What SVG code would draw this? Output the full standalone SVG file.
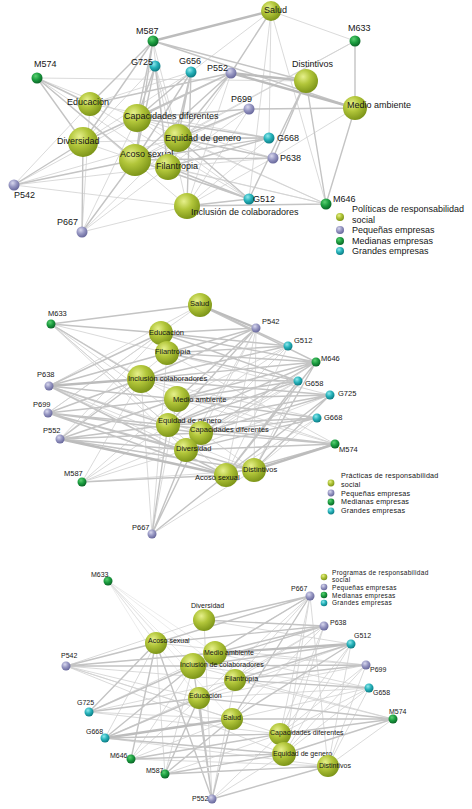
<svg xmlns="http://www.w3.org/2000/svg" width="472" height="809" viewBox="0 0 472 809">
<defs>
<radialGradient id="gO" cx="0.38" cy="0.32" r="0.7"><stop offset="0" stop-color="#e6f08c"/><stop offset="0.45" stop-color="#b2c63a"/><stop offset="1" stop-color="#7c9418"/></radialGradient>
<radialGradient id="gP" cx="0.38" cy="0.32" r="0.7"><stop offset="0" stop-color="#d8d8ee"/><stop offset="0.5" stop-color="#9696c2"/><stop offset="1" stop-color="#66669a"/></radialGradient>
<radialGradient id="gG" cx="0.38" cy="0.32" r="0.7"><stop offset="0" stop-color="#5ccf72"/><stop offset="0.5" stop-color="#1c9e40"/><stop offset="1" stop-color="#0a6426"/></radialGradient>
<radialGradient id="gT" cx="0.38" cy="0.32" r="0.7"><stop offset="0" stop-color="#90e8ec"/><stop offset="0.5" stop-color="#26b2ba"/><stop offset="1" stop-color="#0c7a82"/></radialGradient>
<style>
.e0{stroke:#d8d8d8;stroke-width:0.5;fill:none}
.e1{stroke:#d0d0d0;stroke-width:0.8;fill:none}
.e2{stroke:#c4c4c4;stroke-width:1.4;fill:none}
.e3{stroke:#bcbcbc;stroke-width:2.4;fill:none}
.o{fill:url(#gO)}.p{fill:url(#gP)}.g{fill:url(#gG)}.c{fill:url(#gT)}
text{font-family:"Liberation Sans",Arial,sans-serif;fill:#161616}
.t1{font-size:9px}.t2{font-size:7.5px}.t3{font-size:7px}
.l1{font-size:9px}.l2{font-size:7.2px;letter-spacing:0.2px}.l3{font-size:6.5px;letter-spacing:0.3px}
</style>
</defs>
<rect width="472" height="809" fill="#ffffff"/>

<g id="connectors">
<g id="connectors-1">
<path class="e1" d="M355 41L271 11M355 41L178 138M355 41L135 160M153 41L178 138M153 41L168 167M155 66L83 142M155 66L178 138M155 66L187 206M191 72L83 142M191 72L90 104M191 72L271 11M231 73L187 206M231 73L168 167M37 78L137 118M37 78L168 167M37 78L306 81M37 78L187 206M249 109L135 160M249 109L187 206M249 109L168 167M269 138L83 142M269 138L187 206M269 138L271 11M269 138L90 104M273 158L168 167M273 158L137 118M273 158L187 206M273 158L355 108M14 185L90 104M14 185L168 167M14 185L187 206M14 185L178 138M14 185L137 118M82 232L168 167M82 232L187 206M82 232L137 118M82 232L178 138M82 232L90 104M249 199L137 118M249 199L271 11M249 199L83 142M249 199L90 104M326 204L271 11M326 204L168 167M326 204L178 138M326 204L135 160M326 204L137 118"/>
<path class="e2" d="M355 41L355 108M153 41L90 104M153 41L137 118M153 41L83 142M153 41L135 160M153 41L306 81M153 41L355 108M155 66L137 118M155 66L135 160M155 66L168 167M191 72L178 138M191 72L135 160M191 72L168 167M191 72L137 118M191 72L187 206M231 73L137 118M231 73L178 138M231 73L135 160M231 73L90 104M231 73L83 142M231 73L271 11M37 78L90 104M37 78L83 142M37 78L135 160M249 109L355 108M249 109L137 118M249 109L178 138M269 138L178 138M269 138L137 118M269 138L135 160M269 138L168 167M273 158L306 81M273 158L178 138M273 158L135 160M14 185L83 142M14 185L135 160M82 232L83 142M82 232L135 160M249 199L187 206M249 199L178 138M249 199L135 160M249 199L168 167M249 199L306 81M326 204L355 108M326 204L306 81M326 204L187 206"/>
<path class="e3" d="M153 41L271 11M231 73L306 81M231 73L355 108"/>
</g>
<g id="connectors-2">
<path class="e1" d="M51 324L167 353M51 324L177 399M51 324L168 425M51 324L186 450M51 324L226 475M51 324L254 470M49 386L201 433M49 386L186 450M49 386L254 470M49 386L200 305M48 413L161 333M48 413L200 305M60 439L167 353M60 439L161 333M82 482L186 450M82 482L168 425M82 482L201 433M82 482L141 379M82 482L254 470M82 482L177 399M152 534L177 399M152 534L141 379M152 534L167 353M152 534L254 470M256 328L201 433M256 328L186 450M256 328L226 475M256 328L254 470M288 346L177 399M288 346L168 425M288 346L201 433M288 346L226 475M316 362L186 450M298 381L201 433M298 381L186 450M298 381L254 470M330 395L186 450M330 395L167 353M317 418L226 475M317 418L254 470M317 418L141 379M335 444L177 399M335 444L141 379M335 444L167 353"/>
<path class="e2" d="M51 324L200 305M51 324L161 333M51 324L141 379M49 386L161 333M49 386L167 353M49 386L177 399M49 386L168 425M49 386L226 475M48 413L141 379M48 413L177 399M48 413L168 425M48 413L201 433M48 413L186 450M48 413L226 475M48 413L254 470M60 439L141 379M60 439L177 399M60 439L168 425M60 439L201 433M60 439L186 450M60 439L254 470M82 482L226 475M152 534L226 475M152 534L186 450M152 534L201 433M152 534L168 425M256 328L161 333M256 328L167 353M256 328L141 379M256 328L177 399M256 328L168 425M288 346L200 305M288 346L161 333M288 346L167 353M288 346L141 379M316 362L200 305M316 362L161 333M316 362L167 353M316 362L141 379M316 362L177 399M316 362L168 425M316 362L201 433M316 362L226 475M316 362L254 470M298 381L161 333M298 381L167 353M298 381L141 379M298 381L177 399M298 381L168 425M298 381L226 475M330 395L141 379M330 395L177 399M330 395L168 425M330 395L201 433M330 395L226 475M330 395L254 470M317 418L177 399M317 418L168 425M317 418L201 433M317 418L186 450M335 444L201 433M335 444L186 450M335 444L168 425M335 444L226 475"/>
<path class="e3" d="M49 386L141 379M60 439L226 475M256 328L200 305M335 444L254 470"/>
</g>
<g id="connectors-3">
<path class="e0" d="M108 581L156 643M108 581L148 645M108 581L162 640M108 581L193 666M108 581L235 680M108 581L199 698M108 581L215 653M108 581L232 719"/>
<path class="e1" d="M66 666L204 620M66 666L235 680M66 666L199 698M66 666L232 719M66 666L280 734M66 666L284 754M310 596L193 666M310 596L199 698M310 596L280 734M310 596L284 754M310 596L328 766M310 596L235 680M324 626L235 680M324 626L199 698M324 626L284 754M324 626L280 734M324 626L232 719M351 644L199 698M351 644L280 734M351 644L284 754M351 644L328 766M351 644L204 620M366 665L199 698M366 665L156 643M366 665L215 653M366 665L280 734M366 665L284 754M366 665L328 766M369 688L215 653M369 688L193 666M369 688L199 698M369 688L280 734M369 688L284 754M369 688L328 766M369 688L232 719M393 719L193 666M393 719L328 766M393 719L235 680M89 712L232 719M89 712L235 680M89 712L215 653M89 712L280 734M105 738L235 680M105 738L156 643M105 738L328 766M131 759L193 666M131 759L199 698M131 759L232 719M131 759L328 766M165 774L280 734M165 774L193 666M165 774L156 643M212 799L280 734M212 799L284 754M212 799L204 620M212 799L235 680"/>
<path class="e2" d="M66 666L156 643M66 666L215 653M66 666L193 666M310 596L204 620M310 596L156 643M310 596L215 653M310 596L232 719M324 626L204 620M324 626L156 643M324 626L215 653M324 626L193 666M351 644L193 666M351 644L235 680M351 644L232 719M366 665L193 666M366 665L235 680M369 688L235 680M393 719L232 719M393 719L199 698M393 719L280 734M393 719L284 754M89 712L156 643M89 712L193 666M89 712L199 698M105 738L199 698M105 738L193 666M105 738L280 734M105 738L284 754M131 759L156 643M131 759L280 734M131 759L284 754M165 774L199 698M165 774L232 719M165 774L284 754M165 774L328 766M212 799L199 698M212 799L232 719M212 799L193 666M212 799L156 643M212 799L328 766"/>
<path class="e3" d="M351 644L215 653M105 738L232 719"/>
</g>
</g>

<!-- Panel 1 -->
<g id="p1-salud"><circle class="o" cx="271" cy="11" r="10"/><text class="t1" x="264" y="13">Salud</text></g>
<g id="p1-distintivos"><circle class="o" cx="306" cy="81" r="12"/><text class="t1" x="292" y="67">Distintivos</text></g>
<g id="p1-educacion"><circle class="o" cx="90" cy="104" r="12"/><text class="t1" x="67" y="105">Educación</text></g>
<g id="p1-capacidades"><circle class="o" cx="137" cy="118" r="14"/><text class="t1" x="124" y="119">Capacidades diferentes</text></g>
<g id="p1-medio"><circle class="o" cx="355" cy="108" r="12"/><text class="t1" x="347" y="108">Medio ambiente</text></g>
<g id="p1-equidad"><circle class="o" cx="178" cy="138" r="14"/><text class="t1" x="165" y="141">Equidad de genero</text></g>
<g id="p1-diversidad"><circle class="o" cx="83" cy="142" r="15"/><text class="t1" x="57" y="144">Diversidad</text></g>
<g id="p1-acoso"><circle class="o" cx="135" cy="160" r="16"/><text class="t1" x="120" y="157">Acoso sexual</text></g>
<g id="p1-filantropia"><circle class="o" cx="168" cy="167" r="13"/><text class="t1" x="156" y="169">Filantropia</text></g>
<g id="p1-inclusion"><circle class="o" cx="187" cy="206" r="13"/><text class="t1" x="191" y="215">Inclusión de colaboradores</text></g>
<g id="p1-M587"><circle class="g" cx="153" cy="41" r="5.5"/><text class="t1" x="136" y="34">M587</text></g>
<g id="p1-G725"><circle class="c" cx="155" cy="66" r="5.5"/><text class="t1" x="131" y="65">G725</text></g>
<g id="p1-G656"><circle class="c" cx="191" cy="72" r="5.5"/><text class="t1" x="179" y="64">G656</text></g>
<g id="p1-P552"><circle class="p" cx="231" cy="73" r="5.5"/><text class="t1" x="207" y="71">P552</text></g>
<g id="p1-M574"><circle class="g" cx="37" cy="78" r="5.5"/><text class="t1" x="34" y="67">M574</text></g>
<g id="p1-M633"><circle class="g" cx="355" cy="41" r="5.5"/><text class="t1" x="348" y="31">M633</text></g>
<g id="p1-P699"><circle class="p" cx="249" cy="109" r="5.5"/><text class="t1" x="231" y="102">P699</text></g>
<g id="p1-G668"><circle class="c" cx="269" cy="138" r="5.5"/><text class="t1" x="277" y="141">G668</text></g>
<g id="p1-P638"><circle class="p" cx="273" cy="158" r="5.5"/><text class="t1" x="280" y="161">P638</text></g>
<g id="p1-P542"><circle class="p" cx="14" cy="185" r="5.5"/><text class="t1" x="14" y="198">P542</text></g>
<g id="p1-P667"><circle class="p" cx="82" cy="232" r="5.5"/><text class="t1" x="57" y="225">P667</text></g>
<g id="p1-G512"><circle class="c" cx="249" cy="199" r="5.5"/><text class="t1" x="253" y="202">G512</text></g>
<g id="p1-M646"><circle class="g" cx="326" cy="204" r="5.5"/><text class="t1" x="333" y="202">M646</text></g>
<g id="p1-legend">
<circle class="o" cx="340" cy="217" r="4"/><circle class="p" cx="340" cy="230" r="4"/><circle class="g" cx="340" cy="241" r="4"/><circle class="c" cx="340" cy="251" r="4"/>
<text class="l1" x="352" y="212">Políticas de responsabilidad</text><text class="l1" x="352" y="223">social</text><text class="l1" x="352" y="233">Pequeñas empresas</text><text class="l1" x="352" y="244">Medianas empresas</text><text class="l1" x="352" y="254">Grandes empresas</text>
</g>

<!-- Panel 2 -->
<g id="p2-salud"><circle class="o" cx="200" cy="305" r="12"/><text class="t2" x="190" y="306">Salud</text></g>
<g id="p2-educacion"><circle class="o" cx="161" cy="333" r="12"/><text class="t2" x="149" y="335">Educación</text></g>
<g id="p2-filantropia"><circle class="o" cx="167" cy="353" r="12"/><text class="t2" x="155" y="354">Filantropía</text></g>
<g id="p2-inclusion"><circle class="o" cx="141" cy="379" r="14"/><text class="t2" x="128" y="381">Inclusión colaboradores</text></g>
<g id="p2-medio"><circle class="o" cx="177" cy="399" r="13"/><text class="t2" x="173" y="402">Medio ambiente</text></g>
<g id="p2-equidad"><circle class="o" cx="168" cy="425" r="12"/><text class="t2" x="158" y="423">Equidad de género</text></g>
<g id="p2-capacidades"><circle class="o" cx="201" cy="433" r="12"/><text class="t2" x="190" y="432">Capacidades diferentes</text></g>
<g id="p2-diversidad"><circle class="o" cx="186" cy="450" r="12"/><text class="t2" x="176" y="451">Diversidad</text></g>
<g id="p2-acoso"><circle class="o" cx="226" cy="475" r="12"/><text class="t2" x="195" y="480">Acoso sexual</text></g>
<g id="p2-distintivos"><circle class="o" cx="254" cy="470" r="12"/><text class="t2" x="243" y="472">Distintivos</text></g>
<g id="p2-M633"><circle class="g" cx="51" cy="324" r="4.5"/><text class="t2" x="48" y="316">M633</text></g>
<g id="p2-P638"><circle class="p" cx="49" cy="386" r="4.5"/><text class="t2" x="37" y="377">P638</text></g>
<g id="p2-P699"><circle class="p" cx="48" cy="413" r="4.5"/><text class="t2" x="33" y="407">P699</text></g>
<g id="p2-P552"><circle class="p" cx="60" cy="439" r="4.5"/><text class="t2" x="43" y="433">P552</text></g>
<g id="p2-M587"><circle class="g" cx="82" cy="482" r="4.5"/><text class="t2" x="64" y="476">M587</text></g>
<g id="p2-P667"><circle class="p" cx="152" cy="534" r="4.5"/><text class="t2" x="132" y="530">P667</text></g>
<g id="p2-P542"><circle class="p" cx="256" cy="328" r="4.5"/><text class="t2" x="262" y="324">P542</text></g>
<g id="p2-G512"><circle class="c" cx="288" cy="346" r="4.5"/><text class="t2" x="294" y="343">G512</text></g>
<g id="p2-M646"><circle class="g" cx="316" cy="362" r="4.5"/><text class="t2" x="321" y="361">M646</text></g>
<g id="p2-G658"><circle class="c" cx="298" cy="381" r="4.5"/><text class="t2" x="305" y="386">G658</text></g>
<g id="p2-G725"><circle class="c" cx="330" cy="395" r="4.5"/><text class="t2" x="338" y="396">G725</text></g>
<g id="p2-G668"><circle class="c" cx="317" cy="418" r="4.5"/><text class="t2" x="324" y="420">G668</text></g>
<g id="p2-M574"><circle class="g" cx="335" cy="444" r="4.5"/><text class="t2" x="339" y="452">M574</text></g>
<g id="p2-legend">
<circle class="o" cx="331" cy="483" r="3.4"/><circle class="p" cx="331" cy="493" r="3.4"/><circle class="g" cx="331" cy="502" r="3.4"/><circle class="c" cx="331" cy="511" r="3.4"/>
<text class="l2" x="341" y="478">Prácticas de responsabilidad</text><text class="l2" x="341" y="487">social</text><text class="l2" x="341" y="495.5">Pequeñas empresas</text><text class="l2" x="341" y="504">Medianas empresas</text><text class="l2" x="341" y="513">Grandes empresas</text>
</g>

<!-- Panel 3 -->
<g id="p3-diversidad"><circle class="o" cx="204" cy="620" r="11"/><text class="t3" x="191" y="608">Diversidad</text></g>
<g id="p3-acoso"><circle class="o" cx="156" cy="643" r="11"/><text class="t3" x="148" y="643">Acoso sexual</text></g>
<g id="p3-medio"><circle class="o" cx="215" cy="653" r="12"/><text class="t3" x="204" y="655">Medio ambiente</text></g>
<g id="p3-inclusion"><circle class="o" cx="193" cy="666" r="13"/><text class="t3" x="180" y="667">Inclusión de colaboradores</text></g>
<g id="p3-filantropia"><circle class="o" cx="235" cy="680" r="11"/><text class="t3" x="225" y="681">Filantropía</text></g>
<g id="p3-educacion"><circle class="o" cx="199" cy="698" r="11"/><text class="t3" x="189" y="698">Educación</text></g>
<g id="p3-salud"><circle class="o" cx="232" cy="719" r="11"/><text class="t3" x="223" y="720">Salud</text></g>
<g id="p3-capacidades"><circle class="o" cx="280" cy="734" r="11"/><text class="t3" x="270" y="735">Capacidades diferentes</text></g>
<g id="p3-equidad"><circle class="o" cx="284" cy="754" r="12"/><text class="t3" x="273" y="756">Equidad de genero</text></g>
<g id="p3-distintivos"><circle class="o" cx="328" cy="766" r="11"/><text class="t3" x="319" y="768">Distintivos</text></g>
<g id="p3-M633"><circle class="g" cx="108" cy="581" r="4.5"/><text class="t3" x="91" y="577">M633</text></g>
<g id="p3-P542"><circle class="p" cx="66" cy="666" r="4.5"/><text class="t3" x="61" y="658">P542</text></g>
<g id="p3-P667"><circle class="p" cx="310" cy="596" r="4.5"/><text class="t3" x="291" y="591">P667</text></g>
<g id="p3-P638"><circle class="p" cx="324" cy="626" r="4.5"/><text class="t3" x="330" y="625">P638</text></g>
<g id="p3-G512"><circle class="c" cx="351" cy="644" r="4.5"/><text class="t3" x="354" y="638">G512</text></g>
<g id="p3-P699"><circle class="p" cx="366" cy="665" r="4.5"/><text class="t3" x="370" y="672">P699</text></g>
<g id="p3-G658"><circle class="c" cx="369" cy="688" r="4.5"/><text class="t3" x="373" y="695">G658</text></g>
<g id="p3-M574"><circle class="g" cx="393" cy="719" r="4.5"/><text class="t3" x="389" y="714">M574</text></g>
<g id="p3-G725"><circle class="c" cx="89" cy="712" r="4.5"/><text class="t3" x="77" y="705">G725</text></g>
<g id="p3-G668"><circle class="c" cx="105" cy="738" r="4.5"/><text class="t3" x="86" y="734">G668</text></g>
<g id="p3-M646"><circle class="g" cx="131" cy="759" r="4.5"/><text class="t3" x="110" y="758">M646</text></g>
<g id="p3-M587"><circle class="g" cx="165" cy="774" r="4.5"/><text class="t3" x="146" y="773">M587</text></g>
<g id="p3-P552"><circle class="p" cx="212" cy="799" r="4.5"/><text class="t3" x="192" y="801">P552</text></g>
<g id="p3-legend">
<circle class="o" cx="324" cy="577" r="3.3"/><circle class="p" cx="324" cy="587" r="3.3"/><circle class="g" cx="324" cy="595" r="3.3"/><circle class="c" cx="324" cy="603" r="3.3"/>
<text class="l3" x="332" y="574.5">Programas de responsabilidad</text><text class="l3" x="332" y="582.3">social</text><text class="l3" x="332" y="590">Pequeñas empresas</text><text class="l3" x="332" y="597.7">Medianas empresas</text><text class="l3" x="332" y="605.4">Grandes empresas</text>
</g>
</svg>
